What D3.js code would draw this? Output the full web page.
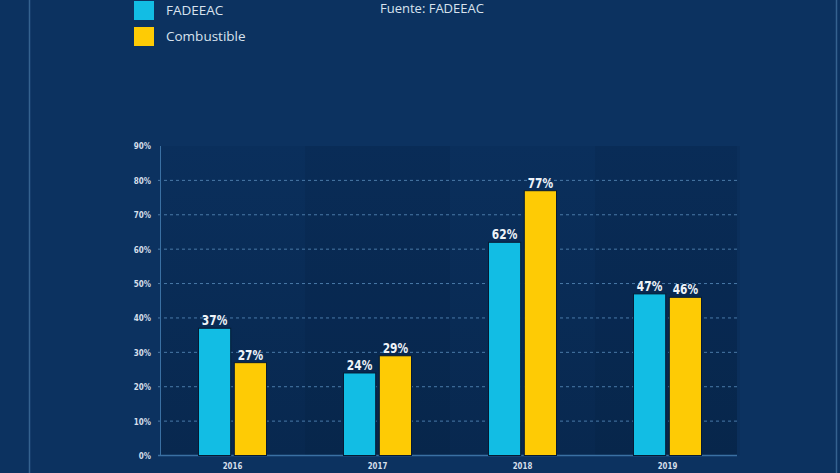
<!DOCTYPE html>
<html>
<head>
<meta charset="utf-8">
<script src="https://cdn.jsdelivr.net/npm/d3@7"></script>
<style>
  html, body { margin: 0; padding: 0; background: #0c3260; }
  svg { display: block; }
  .cond { font-family: 'DejaVu Sans', sans-serif; font-weight: bold; }
</style>
</head>
<body>
<div class="wrapper"></div>
<script>
// data
const years = ["2016", "2017", "2018", "2019"];
const seriesNames = ["FADEEAC", "Combustible"];
const fadeeac = [37, 24, 62, 47];
const combustible = [27, 29, 77, 46];
const yTicks = [0, 10, 20, 30, 40, 50, 60, 70, 80, 90];

const width = 840,
      height = 473;

const colors = ["#12bde4", "#fecb05"];

const svg = d3.select(".wrapper").append("svg")
    .attr("width", width)
    .attr("height", height);

// squeeze text to look like a condensed face
function condense(sel, k) {
  sel.each(function() {
    var w = this.getComputedTextLength();
    d3.select(this).attr("textLength", w * k).attr("lengthAdjust", "spacingAndGlyphs");
  });
}

// background
svg.append("rect").attr("width", width).attr("height", height).attr("fill", "#0c3260");
svg.append("line").attr("x1", 29.5).attr("x2", 29.5).attr("y1", 0).attr("y2", height)
    .attr("stroke", "#35628f").attr("stroke-width", 1.5);
svg.append("line").attr("x1", 836.5).attr("x2", 836.5).attr("y1", 0).attr("y2", height)
    .attr("stroke", "#35628f").attr("stroke-width", 1.5);

var x = d3.scaleBand()
    .domain(years)
    .range([160, 740]);

var y = d3.scaleLinear()
    .domain([0, 90])
    .range([455.5, 146]);

var x1 = d3.scaleBand()
    .domain(seriesNames)
    .range([0, 68])
    .paddingInner(0.1);

// plot panel, darker with soft column bands
var defs = svg.append("defs");
var grad = defs.append("linearGradient").attr("id", "panel")
    .attr("x1", 0).attr("x2", 0).attr("y1", 0).attr("y2", 1);
grad.append("stop").attr("offset", "0%").attr("stop-color", "#0a2f5c");
grad.append("stop").attr("offset", "100%").attr("stop-color", "#08284f");

svg.append("rect")
    .attr("x", 160).attr("y", y(90))
    .attr("width", 577).attr("height", y(0) - y(90))
    .attr("fill", "url(#panel)");

svg.selectAll(".band")
    .data(years.filter((d, i) => i % 2 == 1))
  .enter().append("rect")
    .attr("x", d => x(d))
    .attr("y", y(90))
    .attr("width", x.bandwidth())
    .attr("height", y(0) - y(90))
    .attr("fill", "#000a20")
    .attr("opacity", 0.07);

// dashed grid
svg.selectAll(".grid")
    .data(yTicks.filter(d => d > 0 && d < 90))
  .enter().append("line")
    .attr("x1", 158).attr("x2", 737)
    .attr("y1", d => y(d)).attr("y2", d => y(d))
    .attr("stroke", "#4a7aa8")
    .attr("stroke-width", 1)
    .attr("stroke-dasharray", "3,3");

// axis lines
svg.append("line").attr("x1", 160.5).attr("x2", 160.5).attr("y1", y(90)).attr("y2", y(0))
    .attr("stroke", "#3a70a3").attr("stroke-width", 1);
svg.append("line").attr("x1", 158).attr("x2", 737).attr("y1", y(0)).attr("y2", y(0))
    .attr("stroke", "#3a70a3").attr("stroke-width", 1.5);

// y axis labels
var yAxis = svg.append("g")
    .attr("transform", "translate(151,0)")
    .call(d3.axisLeft(y).tickValues(yTicks).tickSize(0).tickPadding(0).tickFormat(d => d + "%"));
yAxis.select(".domain").remove();
yAxis.selectAll("text")
    .attr("class", "cond")
    .attr("fill", "#d5dfea")
    .style("font-size", "9px")
    .call(condense, 0.8);

// x axis labels
var xAxis = svg.append("g")
    .attr("transform", "translate(0," + (y(0) + 4) + ")")
    .call(d3.axisBottom(x).tickSize(0).tickPadding(3));
xAxis.select(".domain").remove();
xAxis.selectAll("text")
    .attr("class", "cond")
    .attr("fill", "#d5dfea")
    .style("font-size", "9px")
    .call(condense, 0.78);

// bars
var rows = years.map((yr, i) => ({
    year: yr,
    vals: [{ s: seriesNames[0], v: fadeeac[i] }, { s: seriesNames[1], v: combustible[i] }]
}));

var groups = svg.selectAll(".group")
    .data(rows)
  .enter().append("g")
    .attr("transform", d => "translate(" + (x(d.year) + x.bandwidth() / 2 - 34) + ",0)");

groups.selectAll("rect")
    .data(d => d.vals)
  .enter().append("rect")
    .attr("x", d => x1(d.s))
    .attr("y", d => y(d.v))
    .attr("width", x1.bandwidth())
    .attr("height", d => y(0) - y(d.v))
    .attr("fill", (d, i) => colors[i])
    .attr("stroke", "#061a33")
    .attr("stroke-width", 1);

groups.selectAll("text")
    .data(d => d.vals)
  .enter().append("text")
    .attr("class", "cond")
    .attr("x", d => x1(d.s) + x1.bandwidth() / 2)
    .attr("y", d => y(d.v) - 3)
    .attr("text-anchor", "middle")
    .attr("fill", "#eef3f8")
    .style("font-size", "14px")
    .text(d => d.v + "%")
    .call(condense, 0.76);

// legend
var legend = svg.selectAll(".legend")
    .data(seriesNames)
  .enter().append("g")
    .attr("transform", (d, i) => "translate(134," + (1 + i * 26) + ")");

legend.append("rect")
    .attr("width", 20).attr("height", 19)
    .attr("fill", (d, i) => colors[i]);

legend.append("text")
    .attr("x", 32).attr("y", 9)
    .attr("dy", "0.35em")
    .attr("fill", "#d8e2ee")
    .style("font-family", "'Open Sans', sans-serif")
    .style("font-size", "13.5px")
    .text(d => d);

svg.append("text")
    .attr("x", 380).attr("y", 8)
    .attr("dy", "0.35em")
    .attr("fill", "#d8e2ee")
    .style("font-family", "'Open Sans', sans-serif")
    .style("font-size", "13px")
    .text("Fuente: FADEEAC");
</script>
</body>
</html>
